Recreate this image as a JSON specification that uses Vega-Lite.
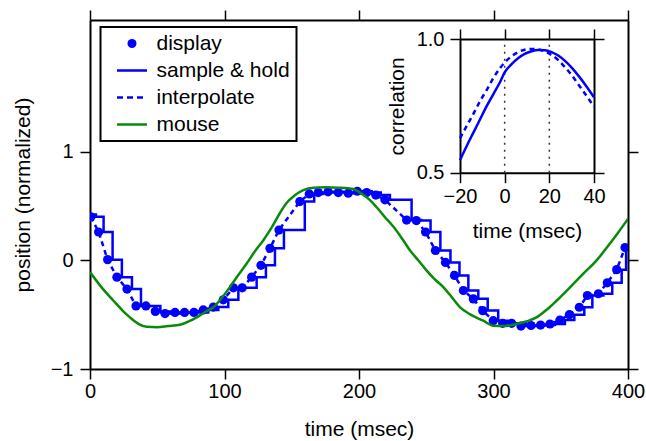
{
  "$schema": "https://vega.github.io/schema/vega-lite/v6.json",
  "width": 538,
  "height": 349,
  "autosize": {"type": "none"},
  "padding": {"left": 90, "top": 20, "right": 18, "bottom": 72},
  "background": "white",
  "config": {
    "font": "Liberation Sans",
    "view": {"stroke": null},
    "axis": {
      "labelFontSize": 20,
      "titleFontSize": 21,
      "titleFontWeight": "normal",
      "labelColor": "black",
      "titleColor": "black",
      "domainColor": "black",
      "domainWidth": 2,
      "tickColor": "black",
      "tickWidth": 1.5,
      "tickSize": 10,
      "labelFlush": false,
      "labelOverlap": false,
      "grid": false
    },
    "legend": {
      "title": null, "orient": "none", "legendX": 10.5, "legendY": 7,
      "strokeColor": "black", "fillColor": "white", "padding": 6, "rowPadding": 5,
      "labelFontSize": 21, "labelColor": "black", "labelOffset": 14, "symbolOffset": 15,
      "symbolSize": 900, "symbolType": "stroke", "symbolStrokeWidth": 2.5
    }
  },
  "datasets": {
    "mouse": [
      {"t": 0, "y": -0.108}, {"t": 8, "y": -0.24}, {"t": 17.3, "y": -0.37}, {"t": 24, "y": -0.46},
      {"t": 29.7, "y": -0.525}, {"t": 36, "y": -0.585}, {"t": 42.1, "y": -0.612}, {"t": 50, "y": -0.615},
      {"t": 58, "y": -0.605}, {"t": 66.9, "y": -0.593}, {"t": 73, "y": -0.565}, {"t": 79.3, "y": -0.525},
      {"t": 85, "y": -0.48}, {"t": 91.7, "y": -0.432}, {"t": 98, "y": -0.345}, {"t": 104, "y": -0.247},
      {"t": 110, "y": -0.14}, {"t": 116.5, "y": -0.03}, {"t": 122.5, "y": 0.08}, {"t": 128.9, "y": 0.185},
      {"t": 135, "y": 0.3}, {"t": 141, "y": 0.43}, {"t": 146, "y": 0.525}, {"t": 152, "y": 0.595},
      {"t": 158.6, "y": 0.645}, {"t": 166, "y": 0.668}, {"t": 175, "y": 0.672}, {"t": 185, "y": 0.668},
      {"t": 195.8, "y": 0.655}, {"t": 201, "y": 0.62}, {"t": 208, "y": 0.556}, {"t": 213, "y": 0.49},
      {"t": 219, "y": 0.4}, {"t": 225.5, "y": 0.31}, {"t": 232, "y": 0.2}, {"t": 238, "y": 0.09},
      {"t": 244, "y": 0.0}, {"t": 250, "y": -0.09}, {"t": 256, "y": -0.17}, {"t": 262.7, "y": -0.247},
      {"t": 269, "y": -0.34}, {"t": 275, "y": -0.43}, {"t": 283, "y": -0.5}, {"t": 292.4, "y": -0.556},
      {"t": 299.8, "y": -0.603}, {"t": 308, "y": -0.605}, {"t": 317, "y": -0.586}, {"t": 325, "y": -0.56},
      {"t": 332, "y": -0.525}, {"t": 340, "y": -0.45}, {"t": 347, "y": -0.37}, {"t": 356, "y": -0.26},
      {"t": 366.8, "y": -0.123}, {"t": 376, "y": -0.01}, {"t": 386.6, "y": 0.154}, {"t": 393, "y": 0.26},
      {"t": 400, "y": 0.38}
    ],
    "display": [
      {"t": 0.7, "y": 0.4}, {"t": 6.4, "y": 0.26}, {"t": 13.1, "y": 0.006}, {"t": 20.0, "y": -0.155},
      {"t": 27.5, "y": -0.265}, {"t": 34.2, "y": -0.42}, {"t": 41.6, "y": -0.42}, {"t": 48.6, "y": -0.47},
      {"t": 55.8, "y": -0.49}, {"t": 63.2, "y": -0.48}, {"t": 70.3, "y": -0.48}, {"t": 77.3, "y": -0.48},
      {"t": 84.2, "y": -0.457}, {"t": 91.7, "y": -0.43}, {"t": 99.1, "y": -0.364}, {"t": 106.6, "y": -0.253},
      {"t": 113.2, "y": -0.253}, {"t": 120.2, "y": -0.155}, {"t": 127.1, "y": -0.046}, {"t": 133.8, "y": 0.11},
      {"t": 140.5, "y": 0.278}, {"t": 156, "y": 0.54}, {"t": 163, "y": 0.61}, {"t": 169.7, "y": 0.623},
      {"t": 177, "y": 0.63}, {"t": 184.6, "y": 0.623}, {"t": 192, "y": 0.617}, {"t": 198.7, "y": 0.635},
      {"t": 205.7, "y": 0.623}, {"t": 212.5, "y": 0.6}, {"t": 219.3, "y": 0.556}, {"t": 235.4, "y": 0.37},
      {"t": 242.6, "y": 0.365}, {"t": 249.5, "y": 0.26}, {"t": 256.8, "y": 0.09}, {"t": 264.3, "y": -0.02},
      {"t": 271, "y": -0.139}, {"t": 277.6, "y": -0.278}, {"t": 285, "y": -0.355}, {"t": 292, "y": -0.463},
      {"t": 299.8, "y": -0.556}, {"t": 306.8, "y": -0.58}, {"t": 313.5, "y": -0.58}, {"t": 320.4, "y": -0.605},
      {"t": 327.9, "y": -0.6}, {"t": 335, "y": -0.596}, {"t": 342, "y": -0.586}, {"t": 349.4, "y": -0.55},
      {"t": 356.4, "y": -0.5}, {"t": 363.8, "y": -0.432}, {"t": 369.8, "y": -0.324}, {"t": 378, "y": -0.308},
      {"t": 384.6, "y": -0.207}, {"t": 391.6, "y": -0.086}, {"t": 397.8, "y": 0.117}
    ],
    "hold": [
      {"t": 0, "y": 0.42}, {"t": 4.4, "y": 0.4}, {"t": 10.1, "y": 0.26}, {"t": 16.8, "y": 0.006},
      {"t": 23.7, "y": -0.155}, {"t": 31.2, "y": -0.265}, {"t": 37.9, "y": -0.42}, {"t": 45.3, "y": -0.42},
      {"t": 52.3, "y": -0.47}, {"t": 59.5, "y": -0.49}, {"t": 66.9, "y": -0.48}, {"t": 74, "y": -0.48},
      {"t": 81, "y": -0.48}, {"t": 87.9, "y": -0.457}, {"t": 95.4, "y": -0.43}, {"t": 102.8, "y": -0.364},
      {"t": 110.3, "y": -0.253}, {"t": 116.9, "y": -0.253}, {"t": 123.9, "y": -0.155}, {"t": 130.8, "y": -0.046},
      {"t": 137.5, "y": 0.11}, {"t": 144.2, "y": 0.278}, {"t": 159.7, "y": 0.54}, {"t": 166.7, "y": 0.61},
      {"t": 173.4, "y": 0.623}, {"t": 180.7, "y": 0.63}, {"t": 188.3, "y": 0.623}, {"t": 195.7, "y": 0.617},
      {"t": 202.4, "y": 0.635}, {"t": 209.4, "y": 0.623}, {"t": 216.2, "y": 0.6}, {"t": 223, "y": 0.556},
      {"t": 239.1, "y": 0.37}, {"t": 246.3, "y": 0.365}, {"t": 253.2, "y": 0.26}, {"t": 260.5, "y": 0.09},
      {"t": 268, "y": -0.02}, {"t": 274.7, "y": -0.139}, {"t": 281.3, "y": -0.278}, {"t": 288.7, "y": -0.355},
      {"t": 295.7, "y": -0.463}, {"t": 303.5, "y": -0.556}, {"t": 310.5, "y": -0.58}, {"t": 317.2, "y": -0.58},
      {"t": 324.1, "y": -0.605}, {"t": 331.6, "y": -0.6}, {"t": 338.7, "y": -0.596}, {"t": 345.7, "y": -0.586},
      {"t": 353.1, "y": -0.55}, {"t": 360.1, "y": -0.5}, {"t": 367.5, "y": -0.432}, {"t": 373.5, "y": -0.324},
      {"t": 381.7, "y": -0.308}, {"t": 388.3, "y": -0.207}, {"t": 395.3, "y": -0.086}, {"t": 398.6, "y": 0.117},
      {"t": 400, "y": 0.117}
    ],
    "corr": [
      {"lag": -20, "hold": 0.547, "interp": 0.629}, {"lag": -17, "hold": 0.6, "interp": 0.675},
      {"lag": -14, "hold": 0.65, "interp": 0.72}, {"lag": -11, "hold": 0.7, "interp": 0.768},
      {"lag": -8, "hold": 0.75, "interp": 0.81}, {"lag": -5, "hold": 0.795, "interp": 0.855},
      {"lag": -2, "hold": 0.84, "interp": 0.892}, {"lag": 0, "hold": 0.875, "interp": 0.912},
      {"lag": 3, "hold": 0.905, "interp": 0.935}, {"lag": 6, "hold": 0.928, "interp": 0.951},
      {"lag": 9, "hold": 0.944, "interp": 0.96}, {"lag": 12, "hold": 0.954, "interp": 0.963},
      {"lag": 15, "hold": 0.959, "interp": 0.961}, {"lag": 18, "hold": 0.958, "interp": 0.954},
      {"lag": 21, "hold": 0.951, "interp": 0.94}, {"lag": 24, "hold": 0.938, "interp": 0.921},
      {"lag": 27, "hold": 0.918, "interp": 0.895}, {"lag": 30, "hold": 0.893, "interp": 0.865},
      {"lag": 33, "hold": 0.863, "interp": 0.83}, {"lag": 36, "hold": 0.83, "interp": 0.795},
      {"lag": 40, "hold": 0.782, "interp": 0.747}
    ],
    "marks": [{"lag": 0}, {"lag": 20}]
  },
  "layer": [
    {
      "layer": [
        {
          "data": {"name": "display"},
          "mark": {"type": "point", "filled": true, "shape": "circle", "size": 85, "opacity": 1, "clip": true},
          "encoding": {
            "x": {"field": "t", "type": "quantitative", "scale": {"domain": [0, 400], "nice": false, "zero": false},
                  "axis": {"orient": "top", "values": [0, 100, 200, 300, 400], "labels": false, "title": null}},
            "y": {"field": "y", "type": "quantitative", "scale": {"domain": [-1, 2.21], "nice": false, "zero": false},
                  "axis": {"orient": "right", "values": [-1, 0, 1], "labels": false, "title": null}},
            "color": {"datum": "display", "type": "nominal",
              "scale": {"domain": ["display", "sample & hold", "interpolate", "mouse"], "range": ["#0000ff", "#0000ff", "#0000ff", "#0a8a0a"]},
              "legend": {
                "labelExpr": "datum.label + '      '",
                "encode": {
                  "legend": {"update": {"strokeWidth": {"value": 2}}},
                  "symbols": {"update": {
                    "shape": {"signal": "datum.value === 'display' ? 'circle' : 'stroke'"},
                    "size": {"signal": "datum.value === 'display' ? 81 : 900"},
                    "fill": {"signal": "datum.value === 'display' ? '#0000ff' : 'transparent'"},
                    "stroke": {"signal": "datum.value === 'mouse' ? '#0a8a0a' : '#0000ff'"},
                    "strokeWidth": {"signal": "datum.value === 'display' ? 0 : 2.5"},
                    "strokeDash": {"signal": "datum.value === 'interpolate' ? [6, 4] : [1, 0]"},
                    "opacity": {"value": 1}
                  }}
                }
              }}
          }
        },
        {
          "data": {"name": "hold"},
          "mark": {"type": "line", "interpolate": "step-after", "strokeWidth": 2.5, "clip": true},
          "encoding": {
            "x": {"field": "t", "type": "quantitative", "axis": null},
            "y": {"field": "y", "type": "quantitative", "axis": null},
            "color": {"datum": "sample & hold", "type": "nominal",
              "legend": {
                "labelExpr": "datum.label + '      '",
                "encode": {
                  "legend": {"update": {"strokeWidth": {"value": 2}}},
                  "symbols": {"update": {
                    "shape": {"signal": "datum.value === 'display' ? 'circle' : 'stroke'"},
                    "size": {"signal": "datum.value === 'display' ? 81 : 900"},
                    "fill": {"signal": "datum.value === 'display' ? '#0000ff' : 'transparent'"},
                    "stroke": {"signal": "datum.value === 'mouse' ? '#0a8a0a' : '#0000ff'"},
                    "strokeWidth": {"signal": "datum.value === 'display' ? 0 : 2.5"},
                    "strokeDash": {"signal": "datum.value === 'interpolate' ? [6, 4] : [1, 0]"},
                    "opacity": {"value": 1}
                  }}
                }
              }}
          }
        },
        {
          "data": {"name": "display"},
          "mark": {"type": "line", "strokeWidth": 2.5, "strokeDash": [5, 4], "clip": true},
          "encoding": {
            "x": {"field": "t", "type": "quantitative", "axis": null},
            "y": {"field": "y", "type": "quantitative", "axis": null},
            "color": {"datum": "interpolate", "type": "nominal",
              "legend": {
                "labelExpr": "datum.label + '      '",
                "encode": {
                  "legend": {"update": {"strokeWidth": {"value": 2}}},
                  "symbols": {"update": {
                    "shape": {"signal": "datum.value === 'display' ? 'circle' : 'stroke'"},
                    "size": {"signal": "datum.value === 'display' ? 81 : 900"},
                    "fill": {"signal": "datum.value === 'display' ? '#0000ff' : 'transparent'"},
                    "stroke": {"signal": "datum.value === 'mouse' ? '#0a8a0a' : '#0000ff'"},
                    "strokeWidth": {"signal": "datum.value === 'display' ? 0 : 2.5"},
                    "strokeDash": {"signal": "datum.value === 'interpolate' ? [6, 4] : [1, 0]"},
                    "opacity": {"value": 1}
                  }}
                }
              }}
          }
        },
        {
          "data": {"name": "mouse"},
          "mark": {"type": "line", "strokeWidth": 2.5, "interpolate": "monotone", "clip": true},
          "encoding": {
            "x": {"field": "t", "type": "quantitative",
                  "axis": {"orient": "bottom", "values": [0, 100, 200, 300, 400], "title": "time (msec)", "labelPadding": 2, "titlePadding": 17}},
            "y": {"field": "y", "type": "quantitative",
                  "axis": {"orient": "left", "values": [-1, 0, 1], "title": "position (normalized)", "labelPadding": 7, "titlePadding": 17}},
            "color": {"datum": "mouse", "type": "nominal",
              "legend": {
                "labelExpr": "datum.label + '      '",
                "encode": {
                  "legend": {"update": {"strokeWidth": {"value": 2}}},
                  "symbols": {"update": {
                    "shape": {"signal": "datum.value === 'display' ? 'circle' : 'stroke'"},
                    "size": {"signal": "datum.value === 'display' ? 81 : 900"},
                    "fill": {"signal": "datum.value === 'display' ? '#0000ff' : 'transparent'"},
                    "stroke": {"signal": "datum.value === 'mouse' ? '#0a8a0a' : '#0000ff'"},
                    "strokeWidth": {"signal": "datum.value === 'display' ? 0 : 2.5"},
                    "strokeDash": {"signal": "datum.value === 'interpolate' ? [6, 4] : [1, 0]"},
                    "opacity": {"value": 1}
                  }}
                }
              }}
          }
        }
      ],
      "resolve": {"axis": {"x": "independent", "y": "independent"}}
    },
    {
      "layer": [
        {
          "data": {"name": "marks"},
          "mark": {"type": "rule", "color": "#333333", "strokeWidth": 1.5, "strokeDash": [2, 5]},
          "encoding": {
            "x": {"field": "lag", "type": "quantitative",
                  "scale": {"domain": [-20, 40], "range": [370, 504], "nice": false, "zero": false},
                  "axis": {"orient": "bottom", "offset": -196.3, "values": [-20, 0, 20, 40], "title": "time (msec)", "labelPadding": 4, "titlePadding": 14}},
            "y": {"datum": 0.5, "type": "quantitative",
                  "scale": {"domain": [0.5, 1.0], "range": [152.7, 19], "nice": false, "zero": false},
                  "axis": {"orient": "left", "offset": -370, "values": [0.5, 1.0], "format": ".1f", "title": "correlation", "labelPadding": 6, "titlePadding": 9}},
            "y2": {"datum": 1.0}
          }
        },
        {
          "data": {"name": "corr"},
          "mark": {"type": "line", "color": "#0000ff", "strokeWidth": 2.5, "interpolate": "monotone"},
          "encoding": {
            "x": {"field": "lag", "type": "quantitative",
                  "axis": {"orient": "top", "offset": -19, "values": [-20, 0, 20, 40], "labels": false, "title": null}},
            "y": {"field": "hold", "type": "quantitative",
                  "axis": {"orient": "right", "offset": -34, "values": [0.5, 1.0], "labels": false, "title": null}}
          }
        },
        {
          "data": {"name": "corr"},
          "mark": {"type": "line", "color": "#0000ff", "strokeWidth": 2.5, "strokeDash": [5, 4], "interpolate": "monotone"},
          "encoding": {
            "x": {"field": "lag", "type": "quantitative", "axis": null},
            "y": {"field": "interp", "type": "quantitative", "axis": null}
          }
        }
      ],
      "resolve": {"axis": {"x": "independent", "y": "independent"}}
    }
  ],
  "resolve": {"scale": {"x": "independent", "y": "independent"}}
}
